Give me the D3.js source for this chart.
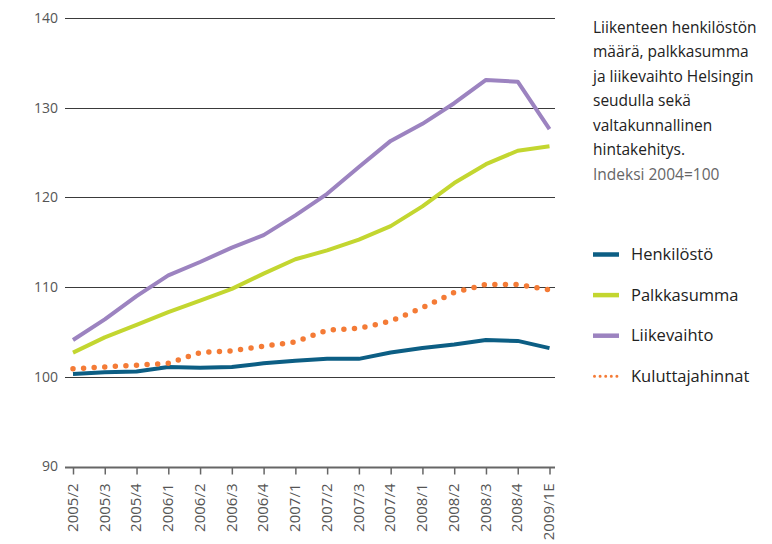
<!DOCTYPE html>
<html>
<head>
<meta charset="utf-8">
<script src="https://cdn.jsdelivr.net/npm/d3@7"></script>
<style>
  body { margin: 0; background: #fff; }
  svg { font-family: "Open Sans", sans-serif; }
</style>
</head>
<body>
<svg width="772" height="544"></svg>
<script>
// neljännekset
var quarters = ["2005/2", "2005/3", "2005/4", "2006/1", "2006/2", "2006/3", "2006/4", "2007/1",
  "2007/2", "2007/3", "2007/4", "2008/1", "2008/2", "2008/3", "2008/4", "2009/1E"];

var henkilosto = [100.3, 100.5, 100.6, 101.1, 101.0, 101.1, 101.5, 101.8,
  102.0, 102.0, 102.7, 103.2, 103.6, 104.1, 104.0, 103.2];
var palkkasumma = [102.7, 104.4, 105.8, 107.2, 108.5, 109.8, 111.5, 113.1,
  114.1, 115.3, 116.8, 119.0, 121.6, 123.7, 125.2, 125.7];
var liikevaihto = [104.1, 106.4, 109.0, 111.3, 112.8, 114.4, 115.8, 118.0,
  120.4, 123.4, 126.3, 128.2, 130.5, 133.1, 132.9, 127.6];
var kuluttajahinnat = [100.9, 101.1, 101.3, 101.5, 102.7, 102.9, 103.4, 103.9,
  105.2, 105.4, 106.2, 107.7, 109.4, 110.3, 110.3, 109.7];

var yTicks = [90, 100, 110, 120, 130, 140];

var titleLines = ["Liikenteen henkilöstön", "määrä, palkkasumma", "ja liikevaihto Helsingin",
  "seudulla sekä", "valtakunnallinen", "hintakehitys."];
var subtitle = "Indeksi 2004=100";

var series = [
  { name: "Henkilöstö", values: henkilosto, color: "#0c5e84", dotted: false },
  { name: "Palkkasumma", values: palkkasumma, color: "#c3d630", dotted: false },
  { name: "Liikevaihto", values: liikevaihto, color: "#9c83c0", dotted: false },
  { name: "Kuluttajahinnat", values: kuluttajahinnat, color: "#f47b36", dotted: true }
];

var svg = d3.select("svg");

var x = d3.scalePoint()
  .domain(quarters)
  .range([73, 549.5]);

var y = d3.scaleLinear()
  .domain([90, 140])
  .range([466.5, 18]);

// ruudukko
svg.append("g")
  .selectAll("line")
  .data(yTicks.filter(function(d) { return d > 90; }))
  .enter().append("line")
  .attr("x1", 65)
  .attr("x2", 555)
  .attr("y1", function(d) { return Math.round(y(d)) + 0.5; })
  .attr("y2", function(d) { return Math.round(y(d)) + 0.5; })
  .attr("stroke", "#3a3a3a")
  .attr("stroke-width", 1.2);

// y-akselin tekstit
svg.append("g")
  .selectAll("text")
  .data(yTicks)
  .enter().append("text")
  .attr("x", 58)
  .attr("y", function(d) { return y(d); })
  .attr("dy", "0.35em")
  .attr("text-anchor", "end")
  .attr("font-size", 14)
  .attr("fill", "#555")
  .text(function(d) { return d; });

// x-akseli
var xAxis = svg.append("g")
  .attr("transform", "translate(0," + (Math.round(y(90)) + 0.5) + ")")
  .call(d3.axisBottom(x).tickSize(7).tickPadding(5).tickSizeOuter(0));

xAxis.select(".domain")
  .attr("d", "M65,0H555")
  .attr("stroke", "#666")
  .attr("stroke-width", 2);
xAxis.selectAll(".tick line").attr("stroke", "#666").attr("stroke-width", 1.5);
xAxis.selectAll(".tick text")
  .attr("font-family", "Open Sans, sans-serif")
  .attr("font-size", 15)
  .attr("fill", "#555")
  .attr("transform", "rotate(-90)")
  .attr("text-anchor", "end")
  .attr("x", -16)
  .attr("y", -1)
  .attr("dy", "0.35em");

// viivat
var line = d3.line()
  .x(function(d, i) { return x(quarters[i]); })
  .y(function(d) { return y(d); });

svg.append("g")
  .selectAll("path")
  .data(series)
  .enter().append("path")
  .attr("d", function(d) { return line(d.values); })
  .attr("fill", "none")
  .attr("stroke", function(d) { return d.color; })
  .attr("stroke-width", function(d) { return d.dotted ? 5.5 : 4; })
  .attr("stroke-linecap", function(d) { return d.dotted ? "round" : "butt"; })
  .attr("stroke-linejoin", "round")
  .attr("stroke-dasharray", function(d) { return d.dotted ? "0 10.6" : null; });

// otsikko
var title = svg.append("text")
  .attr("font-size", 15.5)
  .attr("fill", "#222");
title.selectAll("tspan")
  .data(titleLines)
  .enter().append("tspan")
  .attr("x", 593)
  .attr("y", function(d, i) { return 33 + i * 24.4; })
  .text(function(d) { return d; });

svg.append("text")
  .attr("x", 593)
  .attr("y", 180)
  .attr("font-size", 15.5)
  .attr("fill", "#666")
  .text(subtitle);

// selite
var legend = svg.append("g")
  .selectAll("g")
  .data(series)
  .enter().append("g")
  .attr("transform", function(d, i) { return "translate(593," + (254.5 + i * 40.6) + ")"; });

legend.append("line")
  .attr("x1", function(d) { return d.dotted ? 1.5 : 0; })
  .attr("x2", function(d) { return d.dotted ? 25 : 26; })
  .attr("stroke", function(d) { return d.color; })
  .attr("stroke-width", function(d) { return d.dotted ? 3 : 4.5; })
  .attr("stroke-linecap", function(d) { return d.dotted ? "round" : "butt"; })
  .attr("stroke-dasharray", function(d) { return d.dotted ? "0 5.6" : null; });

legend.append("text")
  .attr("x", 38)
  .attr("dy", "0.35em")
  .attr("font-size", 16.5)
  .attr("fill", "#222")
  .text(function(d) { return d.name; });
</script>
</body>
</html>
